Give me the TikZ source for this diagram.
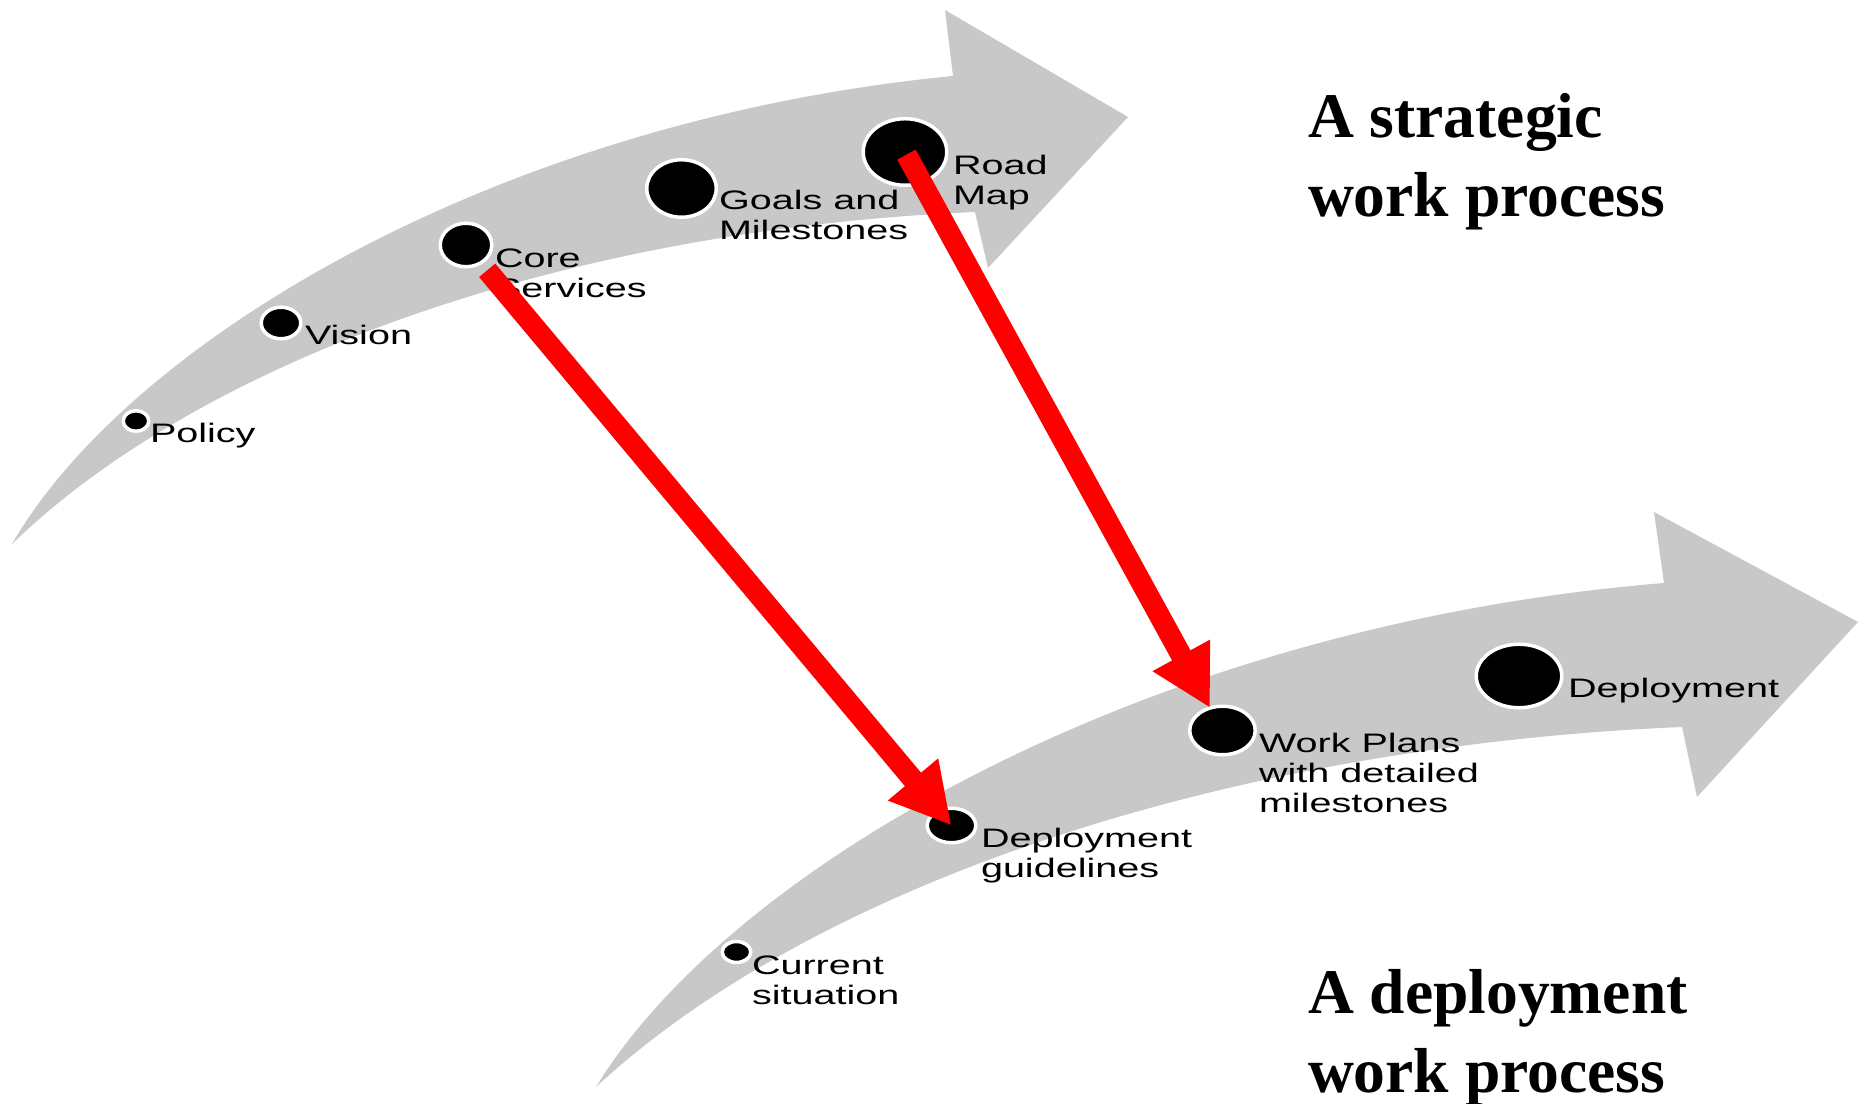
\documentclass[tikz,border=0pt]{standalone}
\usepackage{fontspec}
\usetikzlibrary{shapes.geometric,arrows.meta}
\newfontfamily\labfont[FakeStretch=1.48]{Liberation Sans}
\newfontfamily\ttlfont{Liberation Serif}
\definecolor{shaftgray}{RGB}{200,200,200}
\definecolor{pointred}{RGB}{255,0,0}
\newcommand{\labsize}{\labfont\fontsize{7.6pt}{8.39pt}\selectfont}
\newcommand{\ttlsize}{\ttlfont\bfseries\fontsize{18.07pt}{22.3pt}\selectfont}
\tikzset{
  milestone/.style 2 args={ellipse, fill=black, draw=white, line width=0.35mm,
    inner sep=0pt, outer sep=0pt,
    minimum width={(2*#1+3.5)*0.1mm}, minimum height={(2*#2+3.5)*0.1mm}},
  lab/.style={anchor=base west, inner sep=0pt, outer sep=0pt, font=\labsize, text=black},
  ttl/.style={anchor=base west, inner sep=0pt, outer sep=0pt, font=\ttlsize, text=black},
  redarr/.style={draw=pointred, line width=2.1mm, -{Triangle[length=6mm,width=6.1mm]}},
  band/.style={fill=shaftgray, draw=none}
}
\begin{document}
\begin{tikzpicture}[x=0.01cm, y=-0.01cm]
\useasboundingbox (0,0) rectangle (1863,1104);

% upper (strategic) arrow
\path[band] (12,544) .. controls (130,340) and (500,120) .. (953,76)
  -- (945,10) -- (1128,117) -- (988,268) -- (975,212)
  .. controls (560,230) and (200,362) .. (12,544) -- cycle;

% lower (deployment) arrow
\path[band] (596,1087) .. controls (730,867) and (1150,625) .. (1664,583)
  -- (1654,512) -- (1858,622) -- (1697,797) -- (1682,727)
  .. controls (1214,747) and (808,890) .. (596,1087) -- cycle;

% milestones, strategic process
\node[milestone={11}{8.5}] (policy) at (136,421) {};
\node[milestone={18}{14}] (vision) at (281,323) {};
\node[milestone={24}{20}] (core) at (466,245) {};
\node[milestone={33}{27}] (goals) at (681.5,188.5) {};
\node[milestone={40}{31.5}] (road) at (905,152) {};

% milestones, deployment process
\node[milestone={12.5}{8.7}] (current) at (736.5,952) {};
\node[milestone={22.5}{15.5}] (guide) at (951.5,825.5) {};
\node[milestone={31}{22.5}] (work) at (1222.5,730.5) {};
\node[milestone={41}{30}] (deploy) at (1519,676) {};

% labels
\node[lab] (lpolicy) at (150,443) {Policy};
\node[lab] (lvision) at (305,345) {Vision};
\node[lab] (lcore) at (495,268) {\begin{tabular}[t]{@{}l@{}}Core\\Services\end{tabular}};
\node[lab] (lgoals) at (719,210) {\begin{tabular}[t]{@{}l@{}}Goals and\\Milestones\end{tabular}};
\node[lab] (lroad) at (953,175) {\begin{tabular}[t]{@{}l@{}}Road\\Map\end{tabular}};
\node[lab] (lcurrent) at (752,975) {\begin{tabular}[t]{@{}l@{}}Current\\situation\end{tabular}};
\node[lab] (lguide) at (981,848) {\begin{tabular}[t]{@{}l@{}}Deployment\\guidelines\end{tabular}};
\node[lab] (lwork) at (1259,753) {\begin{tabular}[t]{@{}l@{}}Work Plans\\with detailed\\milestones\end{tabular}};
\node[lab] (ldeploy) at (1568,698) {Deployment};

% titles
\node[ttl] (tstrat) at (1308,138) {\begin{tabular}[t]{@{}l@{}}A strategic\\work process\end{tabular}};
\node[ttl] (tdeploy) at (1308,1014) {\begin{tabular}[t]{@{}l@{}}A deployment\\work process\end{tabular}};

% red connectors
\draw[redarr, shorten <=3.3mm] (core.center) -- (guide.center);
\draw[redarr, shorten <=0.3mm] (road.center) -- (work);
\end{tikzpicture}
\end{document}
